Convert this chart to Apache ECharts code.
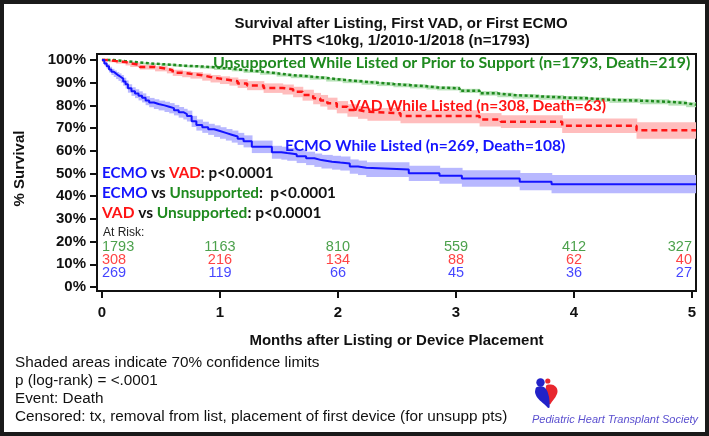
<!DOCTYPE html>
<html>
<head>
<meta charset="utf-8">
<script src="https://cdn.jsdelivr.net/npm/echarts@6/dist/echarts.min.js"></script>
<style>html,body{margin:0;padding:0;background:#fff;}#c{width:709px;height:436px;}</style>
</head>
<body>
<div id="c"></div>
<script>
// ---------- DATA ----------
const xTicks = [0, 1, 2, 3, 4, 5];
const yTicks = [0, 10, 20, 30, 40, 50, 60, 70, 80, 90, 100];

// Unsupported while listed or prior to support (months, % survival, 70% CL)
const unsT  = [0, 0.1, 0.2, 0.3, 0.4, 0.5, 0.6, 0.7, 0.83, 0.95, 1.1, 1.2, 1.34, 1.48, 1.6, 1.76, 1.9, 2.04, 2.2, 2.33, 2.47, 2.61, 2.75, 2.84, 3.03, 3.2, 3.35, 3.48, 3.7, 3.91, 4.11, 4.3, 4.56, 4.8, 4.95, 5.034];
const unsS  = [100, 99.5, 99.0, 98.5, 98.2, 97.9, 97.5, 97.2, 96.8, 96.2, 95.6, 95.0, 94.2, 93.4, 92.8, 92.1, 91.3, 90.6, 90.0, 89.4, 88.9, 88.4, 87.9, 87.5, 86.4, 85.3, 84.6, 84.0, 83.5, 83.1, 82.5, 82.1, 81.6, 81.0, 80.3, 80.0];
const unsHi = [100, 99.7, 99.3, 98.9, 98.6, 98.4, 98.0, 97.7, 97.4, 96.8, 96.2, 95.7, 94.9, 94.1, 93.6, 92.9, 92.1, 91.4, 90.9, 90.3, 89.8, 89.3, 88.8, 88.4, 87.3, 86.3, 85.6, 85.0, 84.5, 84.1, 83.5, 83.1, 82.7, 82.1, 81.4, 81.1];
const unsLo = [100, 99.3, 98.7, 98.1, 97.8, 97.4, 97.0, 96.7, 96.2, 95.6, 95.0, 94.3, 93.5, 92.7, 92.0, 91.3, 90.5, 89.8, 89.1, 88.5, 88.0, 87.5, 87.0, 86.6, 85.5, 84.3, 83.6, 83.0, 82.5, 82.1, 81.5, 81.1, 80.5, 79.9, 79.2, 78.9];

// VAD while listed
const vadT  = [0, 0.06, 0.12, 0.2, 0.24, 0.32, 0.45, 0.55, 0.6, 0.68, 0.75, 0.85, 0.92, 1.0, 1.08, 1.15, 1.23, 1.37, 1.53, 1.62, 1.7, 1.79, 1.85, 1.91, 1.99, 2.08, 2.17, 2.25, 2.53, 3.2, 3.38, 3.9, 4.53, 5.034];
const vadS  = [100, 99.5, 99.1, 98.5, 97.9, 96.9, 96.2, 95.4, 94.4, 93.9, 93.3, 92.5, 91.8, 91.2, 90.6, 89.7, 88.8, 87.7, 87.1, 86.0, 84.6, 83.1, 82.2, 80.9, 79.4, 78.0, 77.2, 76.5, 75.3, 73.8, 72.8, 71.0, 69.0, 69.0];
const vadHi = [100, 99.9, 99.7, 99.3, 98.8, 97.9, 97.3, 96.6, 95.7, 95.2, 94.7, 94.0, 93.4, 92.8, 92.3, 91.5, 90.7, 89.7, 89.2, 88.2, 86.9, 85.5, 84.6, 83.4, 81.9, 80.5, 79.7, 78.9, 77.9, 76.6, 75.7, 74.2, 72.6, 72.6];
const vadLo = [100, 99.0, 98.4, 97.6, 96.9, 95.8, 95.0, 94.1, 93.0, 92.4, 91.8, 90.9, 90.1, 89.4, 88.7, 87.7, 86.7, 85.5, 84.8, 83.6, 82.1, 80.5, 79.5, 78.1, 76.5, 75.0, 74.1, 73.2, 72.1, 70.7, 70.0, 67.8, 65.3, 65.3];

// ECMO while listed
const ecmoT  = [0, 0.02, 0.04, 0.06, 0.08, 0.10, 0.12, 0.14, 0.16, 0.18, 0.20, 0.22, 0.25, 0.28, 0.31, 0.34, 0.37, 0.40, 0.44, 0.48, 0.53, 0.57, 0.61, 0.65, 0.69, 0.72, 0.76, 0.80, 0.85, 0.90, 0.95, 1.00, 1.05, 1.10, 1.15, 1.20, 1.27, 1.44, 1.52, 1.57, 1.65, 1.73, 1.80, 1.86, 1.95, 2.02, 2.10, 2.17, 2.24, 2.60, 2.86, 3.05, 3.54, 3.81, 5.034];
const ecmoS  = [100, 98.5, 97.2, 95.8, 94.8, 94.0, 93.2, 92.5, 91.8, 90.5, 89.3, 87.5, 86.2, 85.2, 84.3, 83.4, 82.2, 81.3, 80.6, 80.0, 79.4, 78.8, 77.9, 77.0, 76.2, 75.3, 73.0, 71.4, 70.4, 69.5, 68.7, 67.9, 67.1, 66.3, 65.3, 64.2, 61.8, 59.4, 59.0, 58.5, 57.6, 56.7, 55.9, 55.2, 54.8, 54.4, 53.1, 52.5, 51.8, 50.1, 49.0, 47.8, 46.4, 45.3, 45.3];
const ecmoHi = [100, 99.3, 98.2, 97.0, 96.1, 95.4, 94.7, 94.1, 93.4, 92.2, 91.0, 89.3, 88.0, 87.1, 86.2, 85.3, 84.1, 83.3, 82.7, 82.1, 81.6, 81.0, 80.2, 79.3, 78.5, 77.7, 75.4, 73.8, 72.8, 71.9, 71.2, 70.4, 69.6, 68.9, 67.9, 66.8, 64.5, 62.2, 61.8, 61.3, 60.5, 59.6, 58.8, 58.2, 57.8, 57.5, 56.2, 55.7, 55.0, 53.4, 52.5, 51.4, 50.2, 49.3, 49.3];
const ecmoLo = [100, 97.6, 96.1, 94.5, 93.4, 92.5, 91.6, 90.8, 90.0, 88.7, 87.4, 85.6, 84.2, 83.2, 82.2, 81.3, 80.1, 79.2, 78.4, 77.8, 77.1, 76.5, 75.6, 74.6, 73.8, 72.9, 70.5, 68.9, 67.9, 67.0, 66.1, 65.3, 64.5, 63.6, 62.6, 61.5, 59.0, 56.5, 56.1, 55.6, 54.6, 53.7, 52.9, 52.2, 51.7, 51.3, 49.9, 49.3, 48.5, 46.7, 45.5, 44.2, 42.6, 41.3, 41.3];

// Numbers at risk
const riskT    = [0, 1, 2, 3, 4, 5];
const riskUns  = [1793, 1163, 810, 559, 412, 327];
const riskVad  = [308, 216, 134, 88, 62, 40];
const riskEcmo = [269, 119, 66, 45, 36, 27];

// ---------- STYLE ----------
const GREEN = '#1f8a1f', RED = '#ff1414', BLUE = '#1414ff';
const ARIAL = "'Liberation Sans', Arial, sans-serif";
const CAL = "Lato, 'Liberation Sans', sans-serif";

function bandSeries(t, lo, hi, color) {
  const d = [];
  for (let i = 0; i < t.length - 1; i++) d.push([t[i], t[i + 1], lo[i], hi[i]]);
  return {
    type: 'custom', data: d, encode: { x: [0, 1], y: [2, 3] }, z: 1, silent: true, clip: true,
    renderItem: function (params, api) {
      const a = api.coord([api.value(0), api.value(3)]);
      const b = api.coord([api.value(1), api.value(2)]);
      return { type: 'rect', shape: { x: a[0], y: a[1], width: b[0] - a[0] + 0.7, height: b[1] - a[1] }, style: { fill: color } };
    }
  };
}
function lineSeries(t, s, color, type, width) {
  return {
    type: 'line', step: 'end', showSymbol: false, symbol: 'none', z: 3, silent: true,
    data: t.map((x, i) => [x, s[i]]),
    lineStyle: { color: color, width: width, type: type }
  };
}
function riskSeries(vals, rowY, color) {
  return {
    type: 'scatter', symbol: 'circle', symbolSize: 0.1, z: 4, silent: true,
    itemStyle: { color: 'rgba(0,0,0,0)' },
    data: riskT.map((t, i) => ({
      value: [t, rowY],
      label: { align: i === 0 ? 'left' : (i === riskT.length - 1 ? 'right' : 'center') }
    })),
    label: {
      show: true, position: 'inside', verticalAlign: 'middle',
      formatter: p => String(vals[p.dataIndex]),
      color: color, fontSize: 14.5, fontFamily: ARIAL
    }
  };
}
function rich(size) {
  const f = 'bold ' + size + 'px ' + CAL;
  return { b: { fill: BLUE, font: f }, r: { fill: RED, font: f }, g: { fill: GREEN, font: f } };
}

const chart = echarts.init(document.getElementById('c'), null, { renderer: 'canvas', width: 709, height: 436 });
chart.setOption({
  animation: false,
  backgroundColor: '#fff',
  title: {
    text: 'Survival after Listing, First VAD, or First ECMO\nPHTS <10kg, 1/2010-1/2018 (n=1793)',
    left: 396, top: 11, textAlign: 'center',
    textStyle: { fontSize: 15, fontWeight: 'bold', fontFamily: ARIAL, color: '#111', lineHeight: 16.5 }
  },
  grid: { left: 97, top: 54, width: 599, height: 237, show: true, borderColor: '#111', borderWidth: 2, outerBoundsMode: 'none' },
  xAxis: {
    type: 'value', min: -0.042, max: 5.034,
    axisLine: { show: true, onZero: false, lineStyle: { color: '#111', width: 2 } },
    axisTick: { show: true, customValues: xTicks, length: 7, lineStyle: { color: '#111', width: 2 } },
    axisLabel: { customValues: xTicks, margin: 14, fontSize: 15, fontWeight: 'bold', color: '#111', fontFamily: ARIAL },
    splitLine: { show: false },
    name: 'Months after Listing or Device Placement', nameLocation: 'middle', nameGap: 42,
    nameTextStyle: { fontSize: 15, fontWeight: 'bold', color: '#111', fontFamily: ARIAL }
  },
  yAxis: {
    type: 'value', min: -1.76, max: 102.64,
    axisLine: { show: true, onZero: false, lineStyle: { color: '#111', width: 2 } },
    axisTick: { show: true, customValues: yTicks, length: 7, lineStyle: { color: '#111', width: 2 } },
    axisLabel: { customValues: yTicks, formatter: v => v + '%', margin: 11, fontSize: 15, fontWeight: 'bold', color: '#111', fontFamily: ARIAL },
    splitLine: { show: false },
    name: '% Survival', nameLocation: 'middle', nameGap: 70,
    nameTextStyle: { fontSize: 15, fontWeight: 'bold', color: '#111', fontFamily: ARIAL, padding: [0, 0, 0, 8] }
  },
  series: [
    bandSeries(unsT, unsLo, unsHi, '#b9e3b9'),
    bandSeries(vadT, vadLo, vadHi, '#ffbdbd'),
    bandSeries(ecmoT, ecmoLo, ecmoHi, '#b8b8ff'),
    lineSeries(unsT, unsS, GREEN, [3, 2.5], 2.5),
    lineSeries(vadT, vadS, RED, [6, 4], 2.5),
    lineSeries(ecmoT, ecmoS, BLUE, 'solid', 2),
    riskSeries(riskUns, 17.6, GREEN),
    riskSeries(riskVad, 12.1, RED),
    riskSeries(riskEcmo, 6.2, BLUE)
  ],
  graphic: [
    { type: 'rect', z: 100, silent: true, shape: { x: 2, y: 2, width: 705, height: 432 }, style: { fill: 'none', stroke: '#1a1a1a', lineWidth: 4 } },
    { type: 'text', z: 50, x: 213, y: 63, style: { text: 'Unsupported While Listed or Prior to Support (n=1793, Death=219)', fill: GREEN, font: 'bold 15.9px ' + CAL, verticalAlign: 'middle' } },
    { type: 'text', z: 50, x: 350, y: 106, style: { text: 'VAD While Listed (n=308, Death=63)', fill: RED, font: 'bold 15.5px ' + CAL, verticalAlign: 'middle' } },
    { type: 'text', z: 50, x: 285, y: 146, style: { text: 'ECMO While Listed (n=269, Death=108)', fill: BLUE, font: 'bold 15.6px ' + CAL, verticalAlign: 'middle' } },
    { type: 'text', z: 50, x: 102, y: 173, style: { text: '{b|ECMO} vs {r|VAD}: p<0.0001', fill: '#111', font: 'bold 15.2px ' + CAL, verticalAlign: 'middle', rich: rich(15.2) } },
    { type: 'text', z: 50, x: 102, y: 193, style: { text: '{b|ECMO} vs {g|Unsupported}:  p<0.0001', fill: '#111', font: 'bold 15.3px ' + CAL, verticalAlign: 'middle', rich: rich(15.3) } },
    { type: 'text', z: 50, x: 102, y: 213, style: { text: '{r|VAD} vs {g|Unsupported}: p<0.0001', fill: '#111', font: 'bold 15.5px ' + CAL, verticalAlign: 'middle', rich: rich(15.5) } },
    { type: 'text', z: 50, x: 103, y: 233, style: { text: 'At Risk:', fill: '#222', font: '12px ' + ARIAL, verticalAlign: 'middle' } },
    { type: 'text', z: 50, x: 15, y: 363, style: { text: 'Shaded areas indicate 70% confidence limits', fill: '#111', font: '15.3px ' + ARIAL, verticalAlign: 'middle' } },
    { type: 'text', z: 50, x: 15, y: 381, style: { text: 'p (log-rank) = <.0001', fill: '#111', font: '15.3px ' + ARIAL, verticalAlign: 'middle' } },
    { type: 'text', z: 50, x: 15, y: 398.5, style: { text: 'Event: Death', fill: '#111', font: '15.3px ' + ARIAL, verticalAlign: 'middle' } },
    { type: 'text', z: 50, x: 15, y: 417, style: { text: 'Censored: tx, removal from list, placement of first device (for unsupp pts)', fill: '#111', font: '15.3px ' + ARIAL, verticalAlign: 'middle' } },
    // logo
    { type: 'polygon', z: 50, silent: true, shape: { points: [[546, 386], [551, 384.5], [555.5, 386.5], [557.5, 391], [556, 396], [552.5, 401], [549.5, 404.5], [548, 398]], smooth: 0.4 }, style: { fill: '#e8262e' } },
    { type: 'polygon', z: 51, silent: true, shape: { points: [[537, 387], [542, 386.5], [546, 389], [548.5, 395], [549.5, 402], [549, 408], [544, 404], [538.5, 399], [535.3, 393.5], [535.5, 389]], smooth: 0.4 }, style: { fill: '#2222c8' } },
    { type: 'circle', z: 51, silent: true, shape: { cx: 540.5, cy: 382.5, r: 4.2 }, style: { fill: '#2222c8' } },
    { type: 'circle', z: 51, silent: true, shape: { cx: 547.8, cy: 381, r: 2.6 }, style: { fill: '#e8262e' } },
    { type: 'text', z: 50, x: 532, y: 420, style: { text: 'Pediatric Heart Transplant Society', fill: '#5a4fcf', font: 'italic 11px ' + ARIAL, verticalAlign: 'middle' } }
  ]
});
</script>
</body>
</html>
